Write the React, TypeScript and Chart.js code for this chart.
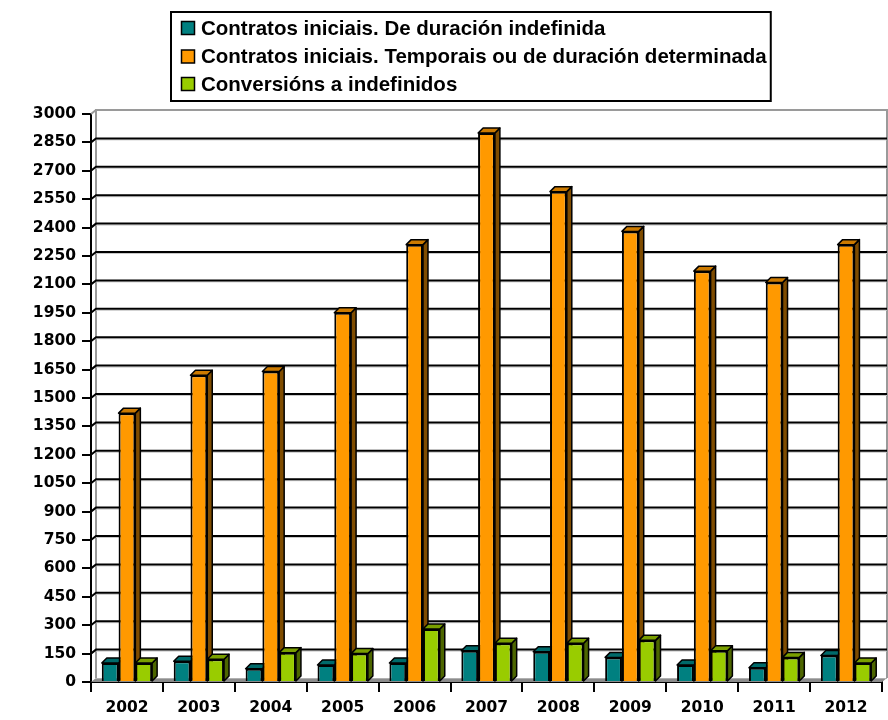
import React, { useEffect, useRef } from "react";
import { Chart, registerables } from "chart.js";

Chart.register(...registerables);

const years = ["2002", "2003", "2004", "2005", "2006", "2007", "2008", "2009", "2010", "2011", "2012"];
const indefinida = [100, 110, 70, 90, 100, 165, 160, 130, 90, 75, 140];
const temporais = [1420, 1620, 1640, 1950, 2310, 2900, 2590, 2380, 2170, 2110, 2310];
const conversions = [100, 120, 155, 150, 280, 205, 205, 220, 165, 130, 100];
const seriesLabels = [
  "Contratos iniciais. De duración indefinida",
  "Contratos iniciais. Temporais ou de duración determinada",
  "Conversións a indefinidos",
];
const frontColors = ["#008080", "#ff9900", "#99cc00"];
const topColors = ["#006a6a", "#cc7a00", "#7a9f00"];
const sideColors = ["#004c4c", "#7f4c00", "#4d6600"];

const BX = 5, BY = 5; // bar depth
const WX = 5, WY = 4; // wall depth

const threeD = {
  id: "threeD",
  beforeDatasetsDraw(chart: any) {
    const { ctx, chartArea, scales } = chart;
    const { left, right, top, bottom } = chartArea;
    const y = scales.y;
    ctx.save();
    // floor
    ctx.beginPath();
    ctx.moveTo(left, bottom);
    ctx.lineTo(left + WX, bottom - WY);
    ctx.lineTo(right + WX, bottom - WY);
    ctx.lineTo(right, bottom);
    ctx.closePath();
    ctx.fillStyle = "#8c8c8c";
    ctx.fill();
    ctx.strokeStyle = "#b0b0b0";
    ctx.lineWidth = 1;
    ctx.beginPath();
    ctx.moveTo(left + WX, bottom - WY + 0.5);
    ctx.lineTo(right + WX, bottom - WY + 0.5);
    ctx.stroke();
    // left & right walls and top line
    ctx.strokeStyle = "#9a9a9a";
    ctx.lineWidth = 2;
    ctx.beginPath();
    ctx.moveTo(left + WX, bottom - WY);
    ctx.lineTo(left + WX, top - WY);
    ctx.lineTo(right + WX, top - WY);
    ctx.lineTo(right + WX, bottom - WY);
    ctx.stroke();
    ctx.beginPath();
    ctx.moveTo(left, top);
    ctx.lineTo(left + WX, top - WY);
    ctx.stroke();
    // gridlines
    y.ticks.forEach((t: any) => {
      if (t.value <= 0 || t.value >= y.max) return;
      const py = y.getPixelForValue(t.value);
      ctx.strokeStyle = "#c8c8c8";
      ctx.lineWidth = 1;
      ctx.beginPath();
      ctx.moveTo(left + WX, py - WY + 1.5);
      ctx.lineTo(right + WX, py - WY + 1.5);
      ctx.stroke();
      ctx.strokeStyle = "#000";
      ctx.lineWidth = 2;
      ctx.beginPath();
      ctx.moveTo(left, py);
      ctx.lineTo(left + WX, py - WY);
      ctx.lineTo(right + WX, py - WY);
      ctx.stroke();
    });
    // bar side and top faces
    ctx.lineWidth = 1.5;
    ctx.strokeStyle = "#000";
    ctx.lineJoin = "round";
    chart.data.datasets.forEach((_ds: any, i: number) => {
      const meta = chart.getDatasetMeta(i);
      meta.data.forEach((el: any) => {
        const w = el.width;
        const l = el.x - w / 2;
        const r = el.x + w / 2;
        const ty = el.y;
        const b = el.base;
        ctx.beginPath();
        ctx.moveTo(r, ty);
        ctx.lineTo(r + BX, ty - BY);
        ctx.lineTo(r + BX, b - BY);
        ctx.lineTo(r, b);
        ctx.closePath();
        ctx.fillStyle = sideColors[i];
        ctx.fill();
        ctx.stroke();
        ctx.beginPath();
        ctx.moveTo(l, ty);
        ctx.lineTo(l + BX, ty - BY);
        ctx.lineTo(r + BX, ty - BY);
        ctx.lineTo(r, ty);
        ctx.closePath();
        ctx.fillStyle = topColors[i];
        ctx.fill();
        ctx.stroke();
      });
    });
    ctx.restore();
  },
  afterDraw(chart: any) {
    const { ctx } = chart;
    ctx.save();
    const font = 'bold 20.5px "Liberation Sans", Arial, sans-serif';
    ctx.font = font;
    const boxLeft = 171;
    const boxTop = 12;
    const rowY = [28, 56.5, 84];
    const textX = boxLeft + 30;
    let maxW = 0;
    chart.data.datasets.forEach((ds: any) => {
      maxW = Math.max(maxW, ctx.measureText(ds.label).width);
    });
    const boxRight = textX + maxW + 4;
    ctx.strokeStyle = "#000";
    ctx.lineWidth = 2;
    ctx.strokeRect(boxLeft, boxTop, boxRight - boxLeft, 89);
    chart.data.datasets.forEach((ds: any, i: number) => {
      const cy = rowY[i];
      ctx.fillStyle = ds.backgroundColor;
      ctx.fillRect(boxLeft + 10.5, cy - 6.5, 13, 13);
      ctx.lineWidth = 1.5;
      ctx.strokeRect(boxLeft + 10.5, cy - 6.5, 13, 13);
      ctx.fillStyle = "#000";
      ctx.textAlign = "left";
      ctx.textBaseline = "middle";
      ctx.fillText(ds.label, textX, cy + 1);
    });
    ctx.restore();
  },
};

export default function App() {
  const ref = useRef<HTMLCanvasElement>(null);
  useEffect(() => {
    document.body.style.margin = "0";
    const tickFont = { family: '"DejaVu Sans", Verdana, sans-serif', size: 15.5, weight: "bold" as const };
    const chart = new Chart(ref.current!, {
      type: "bar",
      data: {
        labels: years,
        datasets: [indefinida, temporais, conversions].map((d, i) => ({
          label: seriesLabels[i],
          data: d,
          backgroundColor: frontColors[i],
          borderColor: "#000",
          borderWidth: 2,
          categoryPercentage: 0.7,
          barPercentage: 1.0,
        })),
      },
      options: {
        animation: false,
        responsive: false,
        maintainAspectRatio: false,
        layout: { padding: { left: 0, right: 6, top: 114, bottom: 0 } },
        plugins: { legend: { display: false }, tooltip: { enabled: false } },
        scales: {
          x: {
            offset: true,
            grid: { offset: true, drawOnChartArea: false, tickLength: 10, color: "#000", lineWidth: 2 },
            border: { display: true, color: "#000", width: 2 },
            ticks: { color: "#000", font: tickFont, padding: 7, maxRotation: 0 },
            afterFit: (s: any) => { s.height = 38; },
          },
          y: {
            min: 0,
            max: 3000,
            grid: { drawOnChartArea: false, tickLength: 9, color: "#000", lineWidth: 2 },
            border: { display: true, color: "#000", width: 2 },
            ticks: {
              stepSize: 150,
              color: "#000",
              font: tickFont,
              padding: 6,
              autoSkip: false,
              callback: (v: any) => String(v),
            },
            afterFit: (s: any) => { s.width = 91; },
          },
        },
      },
      plugins: [threeD],
    });
    return () => chart.destroy();
  }, []);
  return (
    <div style={{ width: 888, height: 720 }}>
      <canvas ref={ref} width={888} height={720} style={{ width: 888, height: 720, display: "block" }} />
    </div>
  );
}
